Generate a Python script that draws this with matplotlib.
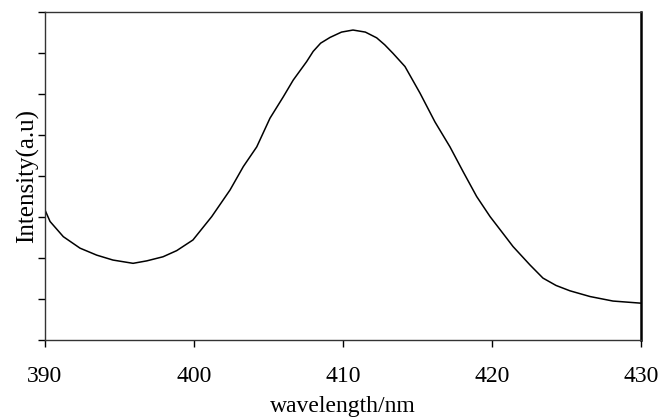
import matplotlib
matplotlib.use("Agg")
import matplotlib.pyplot as plt

wavelength = [390.00, 390.34, 391.23, 392.35, 393.47, 394.56, 395.91, 396.83, 397.92,
              398.84, 399.93, 401.19, 402.42, 403.31, 404.21, 405.10, 405.99, 406.66,
              407.56, 408.00, 408.50, 409.13, 409.90, 410.67, 411.50, 412.26, 412.80,
              413.36, 414.16, 415.17, 416.17, 417.18,
              418.07, 418.97, 419.87, 420.99, 421.41, 422.55, 423.42, 424.30, 425.23,
              426.58, 428.12, 429.93, 430.00]
intensity = [3.17, 2.89, 2.52, 2.24, 2.07, 1.95, 1.87, 1.93, 2.03,
             2.18, 2.44, 3.01, 3.66, 4.23, 4.71, 5.41, 5.93, 6.34,
             6.79, 7.04, 7.24, 7.38, 7.51, 7.56, 7.51, 7.37, 7.20,
             6.99, 6.67, 6.02, 5.32, 4.71,
             4.10, 3.50, 3.01, 2.48, 2.28, 1.83, 1.51, 1.33, 1.20,
             1.06, 0.95, 0.90, 0.90]
x_ticks = [390, 400, 410, 420, 430]
y_ticks = list(range(0, 9))

plt.rcParams['font.family'] = ['Liberation Serif', 'DejaVu Serif']

fig = plt.figure(figsize=(6.63, 4.19), dpi=100)
ax = fig.add_axes([45/663, (419-340)/419, (641-45)/663, (340-12)/419])

ax.plot(wavelength, intensity, color='black', lw=1.1)
ax.set_xlim(390, 430)
ax.set_ylim(0, 8)
ax.set_xticks(x_ticks)
ax.set_xticklabels([str(t) for t in x_ticks], fontsize=17)
ax.set_yticks(y_ticks)
ax.set_yticklabels([])
ax.tick_params(axis='x', direction='out', length=5, width=1, pad=14, colors='black')
ax.tick_params(axis='y', direction='out', length=5, width=1, colors='black')
for s in ['left', 'bottom', 'top']:
    ax.spines[s].set_linewidth(1)
    ax.spines[s].set_color('#333333')
ax.spines['right'].set_linewidth(1.8)
ax.spines['right'].set_color('black')

ax.set_xlabel('wavelength/nm', fontsize=17, labelpad=6)
ax.set_ylabel('Intensity(a.u)', fontsize=18, labelpad=-4)

fig.savefig('out.png', dpi=100)
